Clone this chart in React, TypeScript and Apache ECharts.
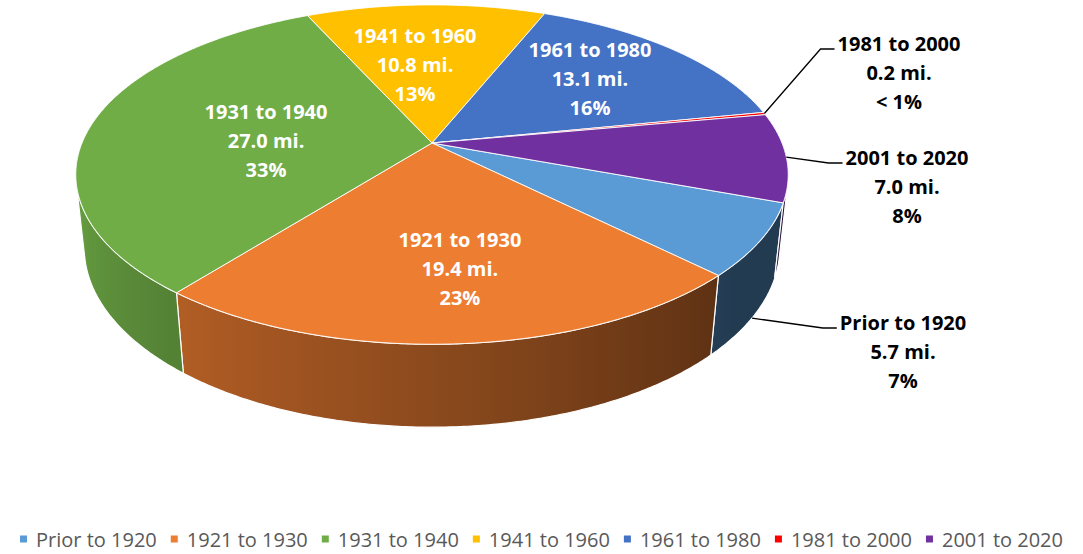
import React, { useEffect, useRef } from "react";
import * as echarts from "echarts";

// ---------- data ----------
const categories = [
  "Prior to 1920",
  "1921 to 1930",
  "1931 to 1940",
  "1941 to 1960",
  "1961 to 1980",
  "1981 to 2000",
  "2001 to 2020",
];
const miles = [5.7, 19.4, 27.0, 10.8, 13.1, 0.2, 7.0];
const percentLabels = ["7%", "23%", "33%", "13%", "16%", "< 1%", "8%"];
const colors = ["#5B9BD5", "#ED7D31", "#70AD47", "#FFC000", "#4472C4", "#FF0000", "#7030A0"];

// ---------- layout ----------
const CX = 432;
const CY = 143;
const RADIUS = 350;
const SIN_A = 0.468;
const COS_A = Math.sqrt(1 - SIN_A * SIN_A);
const CAM_D = 4.75;
const DEPTH = 0.24;
const START_ANGLE = 20; // degrees, clockwise from 3 o'clock
const THETA_S = (Math.asin(1 / (CAM_D * COS_A)) * 180) / Math.PI;
const FONT = "'Open Sans', 'Noto Sans', sans-serif";
const LABEL_SIZE = 20;
const LINE_H = 29;

const insideLabel: Record<number, { r: number; dTheta: number }> = {
  1: { r: 0.672, dTheta: -2.6 },
  2: { r: 0.4755, dTheta: -5.5 },
  3: { r: 0.5255, dTheta: -4.6 },
  4: { r: 0.644, dTheta: -1.4 },
};
const outsideLabel: Record<number, { cx: number; y: number }> = {
  0: { cx: 903, y: 322 },
  5: { cx: 899, y: 43 },
  6: { cx: 907, y: 157 },
};

function project(theta: number, r: number, Y: number): [number, number] {
  const t = (theta * Math.PI) / 180;
  const X = r * Math.cos(t);
  const Z = r * Math.sin(t);
  const yp = Y * COS_A - Z * SIN_A;
  const zp = Y * SIN_A + Z * COS_A;
  const s = 1 / (1 - zp / CAM_D);
  return [CX + RADIUS * X * s, CY - RADIUS * yp * s];
}

function arc(a0: number, a1: number, Y: number): [number, number][] {
  const n = Math.max(2, Math.ceil((a1 - a0) / 0.5) + 1);
  const pts: [number, number][] = [];
  for (let j = 0; j < n; j++) pts.push(project(a0 + ((a1 - a0) * j) / (n - 1), 1, Y));
  return pts;
}

function shadeFactor(theta: number) {
  const t = ((theta % 360) + 360) % 360;
  return Math.min(0.9, Math.max(0.38, 0.38 + ((t - 40) / 125) * 0.52));
}

function shade(hex: string, f: number) {
  const n = parseInt(hex.slice(1), 16);
  const r = Math.round(((n >> 16) & 255) * f);
  const g = Math.round(((n >> 8) & 255) * f);
  const b = Math.round((n & 255) * f);
  return `rgb(${r},${g},${b})`;
}

let measureCtx: CanvasRenderingContext2D | null = null;
function measure(text: string, font: string) {
  if (!measureCtx) measureCtx = document.createElement("canvas").getContext("2d");
  if (!measureCtx) return text.length * 10;
  measureCtx.font = font;
  return measureCtx.measureText(text).width;
}

const total = miles.reduce((s, v) => s + v, 0);
const starts: number[] = [];
const ends: number[] = [];
{
  let acc = START_ANGLE;
  miles.forEach((v) => {
    starts.push(acc);
    acc += (v / total) * 360;
    ends.push(acc);
  });
}

export default function App() {
  const ref = useRef<HTMLDivElement>(null);

  useEffect(() => {
    if (!ref.current) return;
    const chart = echarts.init(ref.current, undefined, { renderer: "svg" });

    const renderItem = (params: any) => {
      const i = params.dataIndex;
      const a0 = starts[i];
      const a1 = ends[i];
      const children: any[] = [];

      // side walls
      const ranges = [
        [THETA_S, 180 - THETA_S],
        [THETA_S + 360, 540 - THETA_S],
      ];
      ranges.forEach(([lo, hi]) => {
        const w0 = Math.max(a0, lo);
        const w1 = Math.min(a1, hi);
        if (w1 <= w0) return;
        const top = arc(w0, w1, 0);
        const bot = arc(w0, w1, -DEPTH).reverse();
        const pts = top.concat(bot);
        const xs = pts.map((p) => p[0]);
        const minX = Math.min(...xs);
        const maxX = Math.max(...xs);
        const span = Math.max(1, maxX - minX);
        const stops: { offset: number; color: string }[] = [];
        const ns = 14;
        for (let j = 0; j <= ns; j++) {
          const t = w0 + ((w1 - w0) * j) / ns;
          const x = project(t, 1, -DEPTH / 2)[0];
          stops.push({
            offset: Math.min(1, Math.max(0, (x - minX) / span)),
            color: shade(colors[i], shadeFactor(t)),
          });
        }
        stops.sort((p, q) => p.offset - q.offset);
        children.push({
          type: "polygon",
          z2: 1,
          shape: { points: pts },
          style: {
            fill: new echarts.graphic.LinearGradient(0, 0, 1, 0, stops),
            stroke: "#ffffff",
            lineWidth: 1.2,
          },
        });
      });

      // top face
      const topPts = [[CX, CY] as [number, number]].concat(arc(a0, a1, 0));
      children.push({
        type: "polygon",
        z2: 2,
        shape: { points: topPts },
        style: { fill: colors[i], stroke: "#ffffff", lineWidth: 0.9 },
      });

      const text = `${categories[i]}\n${miles[i].toFixed(1)} mi.\n${percentLabels[i]}`;
      const mid = (a0 + a1) / 2;

      if (insideLabel[i]) {
        const p = project(mid + insideLabel[i].dTheta, insideLabel[i].r, 0);
        children.push({
          type: "text",
          z2: 20,
          x: p[0],
          y: p[1],
          style: {
            text,
            fill: "#ffffff",
            fontFamily: FONT,
            fontSize: LABEL_SIZE,
            fontWeight: "bold",
            align: "center",
            verticalAlign: "middle",
            lineHeight: LINE_H,
          },
        });
      } else if (outsideLabel[i]) {
        const L = outsideLabel[i];
        const w = Math.max(
          ...text.split("\n").map((s) => measure(s, `bold ${LABEL_SIZE}px ${FONT}`))
        );
        const left = L.cx - w / 2;
        const lineY = L.y + 6;
        const sinMid = Math.sin((mid * Math.PI) / 180);
        const anchor =
          sinMid > Math.sin((THETA_S * Math.PI) / 180)
            ? project(mid, 1, -DEPTH)
            : project(mid, 1, 0);
        children.push({
          type: "polyline",
          z2: 15,
          shape: {
            points: [anchor, [left - 17, lineY], [left - 3, lineY]],
          },
          style: { stroke: "#000000", lineWidth: 1.3, fill: null },
        });
        children.push({
          type: "text",
          z2: 20,
          x: L.cx,
          y: L.y + LINE_H,
          style: {
            text,
            fill: "#000000",
            fontFamily: FONT,
            fontSize: LABEL_SIZE,
            fontWeight: "bold",
            align: "center",
            verticalAlign: "middle",
            lineHeight: LINE_H,
          },
        });
      }

      return { type: "group", children };
    };

    chart.setOption({
      animation: false,
      legend: {
        data: categories,
        left: "center",
        top: 524,
        icon: "rect",
        itemWidth: 7,
        itemHeight: 7,
        itemGap: 14,
        selectedMode: false,
        textStyle: {
          color: "#595959",
          fontSize: 20,
          fontFamily: FONT,
          padding: [0, 0, 0, 4],
        },
      },
      series: [
        {
          type: "custom",
          name: "miles",
          coordinateSystem: "none",
          silent: true,
          renderItem,
          data: miles.map((v, i) => ({ name: categories[i], value: [i, v] })),
        },
        {
          type: "pie",
          name: "legend",
          radius: [0, 0],
          center: [-100, -100],
          silent: true,
          label: { show: false },
          labelLine: { show: false },
          data: miles.map((v, i) => ({
            name: categories[i],
            value: v,
            itemStyle: { color: colors[i] },
          })),
        },
      ],
    });

    return () => chart.dispose();
  }, []);

  return (
    <div
      ref={ref}
      style={{ position: "fixed", left: 0, top: 0, width: 1083, height: 554, background: "#ffffff" }}
    />
  );
}
